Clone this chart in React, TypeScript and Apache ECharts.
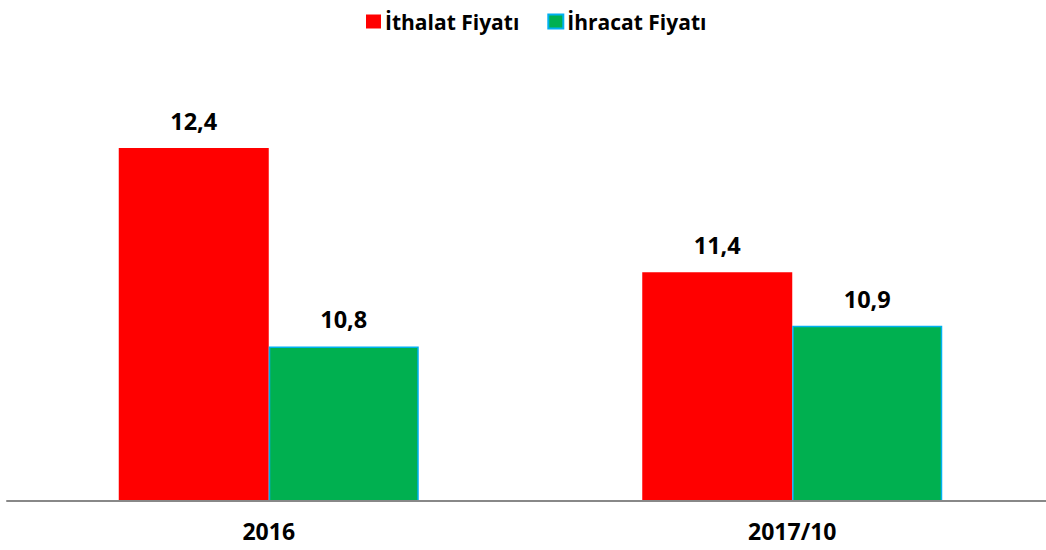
import React, { useEffect, useRef } from "react";
import * as echarts from "echarts";

const categories = ["2016", "2017/10"];
const importPrice = [12.4, 11.38];
const exportPrice = [10.77, 10.94];
const seriesNames = ["İthalat Fiyatı", "İhracat Fiyatı"];

const FONT = "'Open Sans', 'Noto Sans', sans-serif";

export default function App() {
  const ref = useRef<HTMLDivElement>(null);
  useEffect(() => {
    if (!ref.current) return;
    const chart = echarts.init(ref.current, undefined, { renderer: "svg" });
    const fmt = (p: any) => Number(p.value).toFixed(1).replace(".", ",");
    const labelStyle = {
      show: true,
      position: "top",
      distance: 15,
      formatter: fmt,
      fontFamily: FONT,
      fontWeight: "bold",
      fontSize: 23.5,
      color: "#000",
    };
    chart.setOption({
      animation: false,
      backgroundColor: "#ffffff",
      textStyle: { fontFamily: FONT },
      legend: {
        top: 6,
        left: 361,
        itemWidth: 15,
        itemHeight: 14,
        itemGap: 28,
        icon: "rect",
        textStyle: { fontFamily: FONT, fontWeight: "bold", fontSize: 21, color: "#000", padding: [0, 0, 0, -1] },
        data: seriesNames,
      },
      grid: { left: 7, right: 2, top: 75, bottom: 49 },
      xAxis: {
        type: "category",
        data: categories,
        z: 5,
        axisLine: { lineStyle: { color: "#888888", width: 2 } },
        axisTick: { show: false },
        axisLabel: {
          margin: 18,
          fontFamily: FONT,
          fontWeight: "bold",
          fontSize: 23,
          color: "#000",
        },
      },
      yAxis: {
        type: "value",
        min: 9.5,
        max: 13,
        show: false,
        splitLine: { show: false },
      },
      series: [
        {
          name: seriesNames[0],
          type: "bar",
          data: importPrice,
          barWidth: 150,
          barGap: "0%",
          itemStyle: { color: "#FF0000" },
          label: labelStyle,
        },
        {
          name: seriesNames[1],
          type: "bar",
          data: exportPrice,
          barWidth: 150,
          barGap: "0%",
          itemStyle: { color: "#00B050", borderColor: "#00B0F0", borderWidth: 1.5 },
          label: labelStyle,
        },
      ],
    });
    return () => chart.dispose();
  }, []);
  return (
    <div style={{ position: "absolute", left: 0, top: 0, width: 1046, height: 550, overflow: "hidden" }}>
      <div ref={ref} style={{ width: 1056, height: 550 }} />
    </div>
  );
}
